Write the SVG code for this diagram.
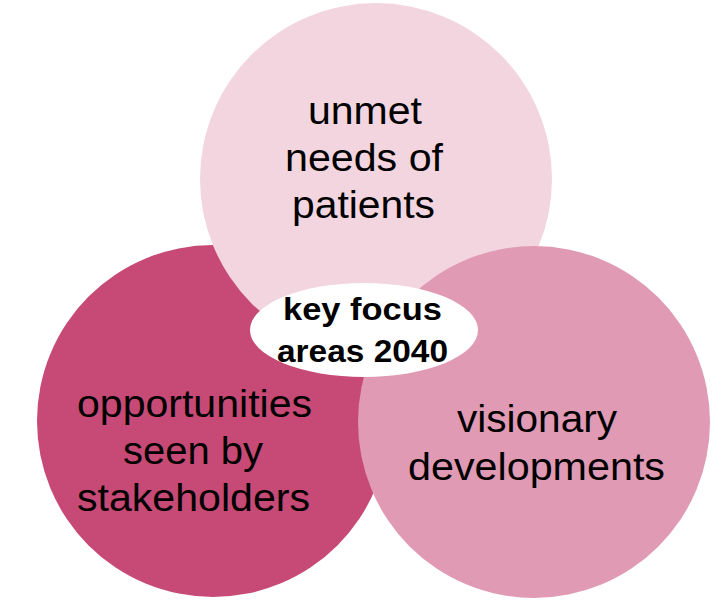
<svg xmlns="http://www.w3.org/2000/svg" width="728" height="608" viewBox="0 0 728 608">
<style>
.lbl{font-family:"Liberation Sans",Arial,sans-serif;font-size:38px;fill:#000;text-anchor:middle}
.ctr{font-family:"Liberation Sans",Arial,sans-serif;font-size:31px;font-weight:bold;fill:#000;text-anchor:middle}
</style>
<rect width="728" height="608" fill="#fff"/>
<g id="stakeholders">
<circle cx="213" cy="421" r="176" fill="#c64a75"/>
</g>
<g id="patients">
<circle cx="376" cy="179" r="176" fill="#f2d5df"/>
</g>
<g id="visionary">
<circle cx="534" cy="422" r="176" fill="#e09ab3"/>
</g>
<g id="connectors"></g>
<g id="patients-text">
<text class="lbl" x="365" y="124" textLength="114" lengthAdjust="spacingAndGlyphs">unmet</text>
<text class="lbl" x="364" y="171" textLength="158" lengthAdjust="spacingAndGlyphs">needs of</text>
<text class="lbl" x="363.5" y="218" textLength="143" lengthAdjust="spacingAndGlyphs">patients</text>
</g>
<g id="stakeholders-text">
<text class="lbl" x="194.5" y="417" textLength="235" lengthAdjust="spacingAndGlyphs">opportunities</text>
<text class="lbl" x="193" y="464" textLength="140" lengthAdjust="spacingAndGlyphs">seen by</text>
<text class="lbl" x="193.5" y="511" textLength="233" lengthAdjust="spacingAndGlyphs">stakeholders</text>
</g>
<g id="visionary-text">
<text class="lbl" x="537" y="432" textLength="160" lengthAdjust="spacingAndGlyphs">visionary</text>
<text class="lbl" x="536.5" y="480" textLength="257" lengthAdjust="spacingAndGlyphs">developments</text>
</g>
<g id="center">
<ellipse cx="364" cy="330" rx="114" ry="47" fill="#fff"/>
<text class="ctr" x="362.5" y="320" textLength="159" lengthAdjust="spacingAndGlyphs">key focus</text>
<text class="ctr" x="362.5" y="362" textLength="171" lengthAdjust="spacingAndGlyphs">areas 2040</text>
</g>
</svg>
